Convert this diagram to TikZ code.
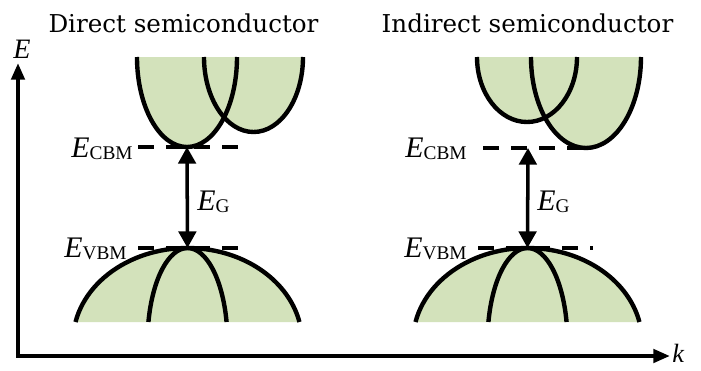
\documentclass[tikz,border=0pt]{standalone}
\usepackage{fontspec}
\setmainfont{Liberation Serif}
\newfontfamily\titlefont{DejaVu Serif}
\usetikzlibrary{arrows.meta}
\definecolor{bandgreen}{HTML}{D3E2BB}
\newcommand{\Elab}[1]{{\fontsize{17}{20}\selectfont\textit{E}}\raisebox{-1.5pt}{\fontsize{11}{13}\selectfont #1}}

\begin{document}
\begin{tikzpicture}[x=0.02cm,y=0.02cm,
  band/.style={line width=2.5pt},
  bandfill/.style={fill=bandgreen},
  level/.style={line width=2.4pt,dash pattern=on 9pt off 7pt},
  gap/.style={line width=2pt,{Triangle[length=9.5pt,width=10pt]}-{Triangle[length=9.5pt,width=10pt]}},
  axis/.style={line width=2.3pt,{Triangle[length=9.5pt,width=7.5pt]}-{Triangle[length=9.5pt,width=7.5pt]}},
  lab/.style={inner sep=0pt}]
\useasboundingbox (0,0) rectangle (701,370);
% axes
\coordinate (O) at (18,14); \coordinate (Etip) at (18,307); \coordinate (ktip) at (670,14);
\draw[axis] (Etip) -- (O) -- (ktip);
\node[lab] (Eax) at (22,321) {\fontsize{16}{18}\selectfont\textit{E}};
\node[lab,anchor=base west] (kax) at (672,8) {\fontsize{15}{17}\selectfont\textit{k}};
% titles
\node[lab,anchor=base] (titleD) at (183.5,338) {\titlefont\fontsize{14}{17}\selectfont Direct semiconductor};
\node[lab,anchor=base] (titleI) at (527.5,338) {\titlefont\fontsize{14}{17}\selectfont Indirect semiconductor};
% direct: band fills
\fill[bandfill] (137,313) arc[start angle=180,end angle=360,x radius=50,y radius=90] -- cycle;
\fill[bandfill] (204,313) arc[start angle=180,end angle=360,x radius=49.5,y radius=75] -- cycle;
\fill[bandfill] (75.5,48) arc[start angle=167.7,end angle=12.3,x radius=114.6,y radius=94] -- cycle;
% direct: band curves
\draw[band] (137,313) arc[start angle=180,end angle=360,x radius=50,y radius=90];
\draw[band] (204,313) arc[start angle=180,end angle=360,x radius=49.5,y radius=75];
\draw[band] (75.5,48) arc[start angle=167.7,end angle=12.3,x radius=114.6,y radius=94];
\coordinate (vbmD) at (187.5,122); \coordinate (cbmD) at (187,223);
\draw[band] (vbmD) arc[start angle=90,end angle=167.7,x radius=40,y radius=94];
\draw[band] (vbmD) arc[start angle=90,end angle=12.3,x radius=40,y radius=94];
% direct: levels and gap
\coordinate (cbmDl) at (138,223); \coordinate (cbmDr) at (238,223);
\coordinate (vbmDl) at (138,122); \coordinate (vbmDr) at (238,122);
\draw[level] (cbmDl) -- (cbmDr);
\draw[level] (vbmDl) -- (vbmDr);
\draw[gap] (cbmD) -- (vbmD);
\node[lab,anchor=base east] (ecbmD) at (133,213) {\Elab{CBM}};
\node[lab,anchor=base east] (evbmD) at (127,113) {\Elab{VBM}};
\node[lab,anchor=base west] (egD) at (197,160) {\Elab{G}};
% indirect: band fills
\fill[bandfill] (477,313) arc[start angle=180,end angle=360,x radius=50,y radius=65] -- cycle;
\fill[bandfill] (531,313) arc[start angle=180,end angle=360,x radius=55,y radius=91] -- cycle;
\fill[bandfill] (415.5,48) arc[start angle=167.7,end angle=12.3,x radius=114.6,y radius=94] -- cycle;
% indirect: band curves
\draw[band] (477,313) arc[start angle=180,end angle=360,x radius=50,y radius=65];
\draw[band] (531,313) arc[start angle=180,end angle=360,x radius=55,y radius=91];
\draw[band] (415.5,48) arc[start angle=167.7,end angle=12.3,x radius=114.6,y radius=94];
\coordinate (vbmI) at (527.5,122); \coordinate (cbmI) at (528,222);
\draw[band] (vbmI) arc[start angle=90,end angle=167.7,x radius=40,y radius=94];
\draw[band] (vbmI) arc[start angle=90,end angle=12.3,x radius=40,y radius=94];
% indirect: levels and gap
\coordinate (cbmIl) at (483,222); \coordinate (cbmIr) at (593,222);
\coordinate (vbmIl) at (478,122); \coordinate (vbmIr) at (593,122);
\draw[level] (cbmIl) -- (cbmIr);
\draw[level] (vbmIl) -- (vbmIr);
\draw[gap] (cbmI) -- (vbmI);
\node[lab,anchor=base east] (ecbmI) at (467,213) {\Elab{CBM}};
\node[lab,anchor=base east] (evbmI) at (467,113) {\Elab{VBM}};
\node[lab,anchor=base west] (egI) at (537,160) {\Elab{G}};
\end{tikzpicture}
\end{document}
